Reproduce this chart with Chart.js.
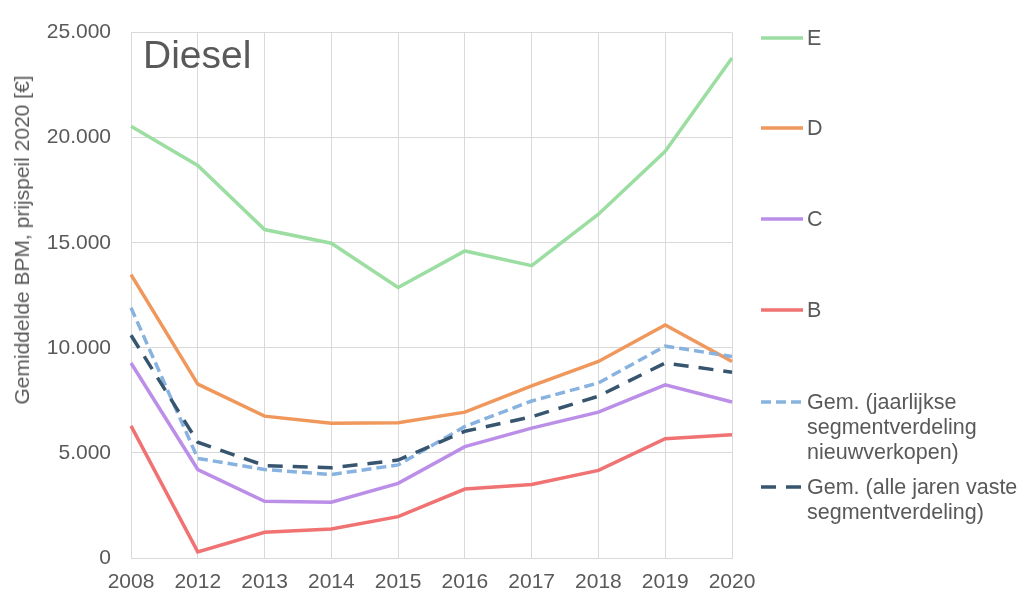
<!DOCTYPE html>
<html>
<head>
<meta charset="utf-8">
<script src="https://cdn.jsdelivr.net/npm/chart.js@4/dist/chart.umd.min.js"></script>
<style>
  html, body { margin: 0; padding: 0; background: #fff; }
  #wrap { position: relative; width: 1026px; height: 593px; font-family: "Liberation Sans", Arial, sans-serif; color: #595959; }
  #chart { position: absolute; left: 0; top: 0; }
  .overlay { position: absolute; white-space: nowrap; }
  #yTitle { left: 22px; top: 240px; font-size: 21px; transform: translate(-50%, -50%) rotate(-90deg); }
  #panelTitle { left: 143px; top: 35px; font-size: 39px; line-height: 39px; }
  .legend-item { position: absolute; left: 760px; font-size: 21.5px; line-height: 25px; }
  .legend-item svg { position: absolute; left: 0; top: 10.3px; }
  .legend-item span { position: absolute; left: 47px; top: 0; white-space: nowrap; }
</style>
</head>
<body>
<div id="wrap">
  <canvas id="chart" width="1026" height="593"></canvas>
  <div id="yTitle" class="overlay">Gemiddelde BPM, prijspeil 2020 [€]</div>
  <div id="panelTitle" class="overlay">Diesel</div>
  <div id="legend"></div>
</div>
<script>
const years = ["2008", "2012", "2013", "2014", "2015", "2016", "2017", "2018", "2019", "2020"];

const segmentE = [20540, 18680, 15630, 14980, 12870, 14610, 13910, 16360, 19350, 23790];
const segmentD = [13480, 8270, 6750, 6410, 6440, 6940, 8190, 9350, 11090, 9350];
const segmentC = [9280, 4210, 2700, 2650, 3550, 5300, 6180, 6940, 8240, 7420];
const segmentB = [6290, 290, 1220, 1380, 1970, 3280, 3500, 4170, 5680, 5870];
const avgYearly = [11910, 4740, 4210, 3970, 4430, 6260, 7470, 8330, 10080, 9590];
const avgFixed = [10600, 5510, 4400, 4290, 4660, 6030, 6720, 7700, 9280, 8840];

const yTicks = [0, 5000, 10000, 15000, 20000, 25000];

const series = [
  { label: "E", data: segmentE, color: "#9cdea2", dash: [], legendY: 38, lines: ["E"] },
  { label: "D", data: segmentD, color: "#f0975c", dash: [], legendY: 128, lines: ["D"] },
  { label: "C", data: segmentC, color: "#bb8ee8", dash: [], legendY: 219, lines: ["C"] },
  { label: "B", data: segmentB, color: "#f07272", dash: [], legendY: 310, lines: ["B"] },
  {
    label: "Gem. (jaarlijkse segmentverdeling nieuwverkopen)",
    data: avgYearly, color: "#88b2df", dash: [10, 5], legendY: 402,
    lines: ["Gem. (jaarlijkse", "segmentverdeling", "nieuwverkopen)"]
  },
  {
    label: "Gem. (alle jaren vaste segmentverdeling)",
    data: avgFixed, color: "#37556f", dash: [15, 10], legendY: 487,
    lines: ["Gem. (alle jaren vaste", "segmentverdeling)"]
  }
];

const textColor = "#595959";
const gridColor = "#d9d9d9";
const font = { family: "'Liberation Sans', Arial, sans-serif", size: 21 };

function formatThousands(value) {
  return String(value).replace(/\B(?=(\d{3})+(?!\d))/g, ".");
}

function buildLegend() {
  const legend = document.getElementById("legend");
  series.forEach((s) => {
    const item = document.createElement("div");
    item.className = "legend-item";
    item.style.top = (s.legendY - 12.3) + "px";
    const dashAttr = s.dash.length ? ` stroke-dasharray="${s.dash.join(" ")}"` : "";
    item.innerHTML =
      `<svg width="44" height="4"><line x1="1" y1="2" x2="43" y2="2" stroke="${s.color}" stroke-width="3.5"${dashAttr}/></svg>` +
      `<span>${s.lines.join("<br>")}</span>`;
    legend.appendChild(item);
  });
}

buildLegend();

new Chart(document.getElementById("chart"), {
  type: "line",
  data: {
    labels: years,
    datasets: series.map((s) => ({
      label: s.label,
      data: s.data,
      borderColor: s.color,
      backgroundColor: s.color,
      borderWidth: 3.5,
      borderDash: s.dash,
      pointRadius: 0,
      tension: 0,
      fill: false
    })).reverse()
  },
  options: {
    responsive: false,
    animation: false,
    layout: { padding: { left: 0, right: 294, top: 20, bottom: 0 } },
    plugins: {
      legend: { display: false },
      tooltip: { enabled: false }
    },
    scales: {
      x: {
        offset: false,
        grid: { color: gridColor, lineWidth: 1, drawTicks: false },
        border: { color: gridColor, width: 1 },
        ticks: { color: textColor, font: font, padding: 12, maxRotation: 0, autoSkip: false },
        afterFit(scale) { scale.height = 35; }
      },
      y: {
        min: 0,
        max: 25000,
        afterBuildTicks(scale) { scale.ticks = yTicks.map((v) => ({ value: v })); },
        grid: { color: gridColor, lineWidth: 1, drawTicks: false },
        border: { color: gridColor, width: 1 },
        ticks: { color: textColor, font: font, padding: 20, callback: (v) => formatThousands(v) },
        afterFit(scale) { scale.width = 131; }
      }
    }
  }
});
</script>
</body>
</html>
